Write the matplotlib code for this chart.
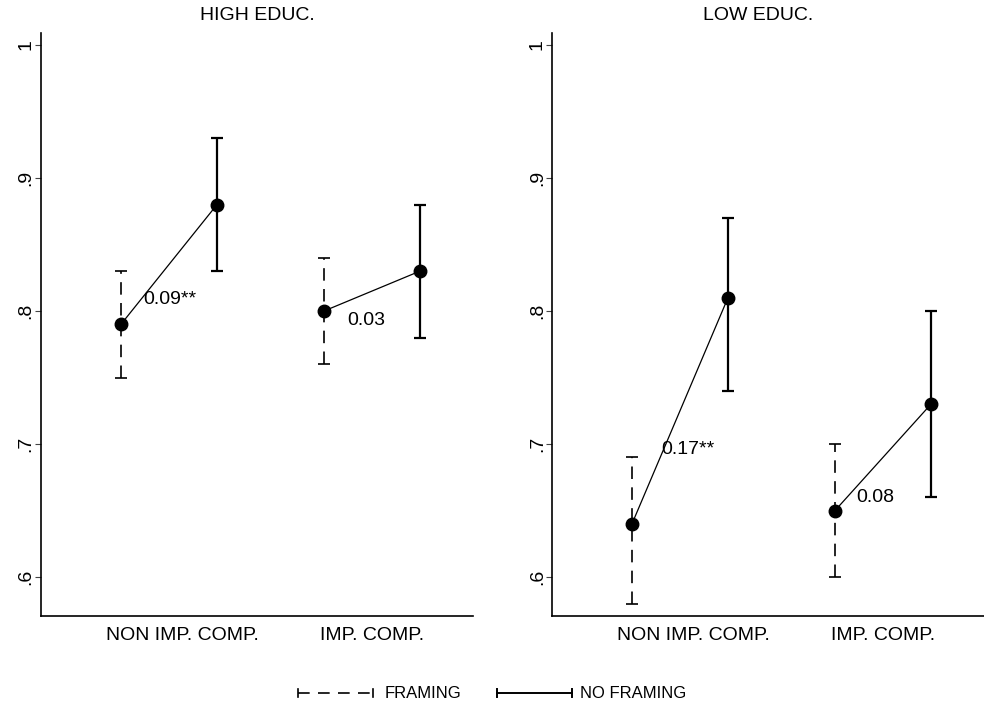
import matplotlib
matplotlib.use("Agg")
import matplotlib.pyplot as plt
import numpy as np

plt.rcParams['font.family'] = ['Liberation Sans', 'DejaVu Sans']

panels = ["HIGH EDUC.", "LOW EDUC."]
categories = ["NON IMP. COMP.", "IMP. COMP."]
series = ["FRAMING", "NO FRAMING"]

# estimates [panel][category] for framing / no framing
framing_mean = [[0.79, 0.80], [0.64, 0.65]]
framing_lo = [[0.75, 0.76], [0.58, 0.60]]
framing_hi = [[0.83, 0.84], [0.69, 0.70]]
noframing_mean = [[0.88, 0.83], [0.81, 0.73]]
noframing_lo = [[0.83, 0.78], [0.74, 0.66]]
noframing_hi = [[0.93, 0.88], [0.87, 0.80]]
diff_labels = [["0.09**", "0.03"], ["0.17**", "0.08"]]

yticks = [0.6, 0.7, 0.8, 0.9, 1.0]
ytick_labels = [".6", ".7", ".8", ".9", "1"]

# layout
W, H = 984, 711
fig = plt.figure(figsize=(W / 100, H / 100), dpi=100)
FS = 14
LFS = 12

x_fr = np.array([1.0, 3.115])
x_nf = x_fr + 1.0
cat_tick_pos = [1.635, 3.615]
label_pos = [[(1.229, 0.809), (3.354, 0.793)], [(1.302, 0.696), (3.333, 0.660)]]
title_x = [0.5, 0.477]

lefts = [41, 552]
for p in range(2):
    ax = fig.add_axes([lefts[p] / W, 95 / H, 432 / W, 583 / H])
    fm = np.array(framing_mean[p]); flo = np.array(framing_lo[p]); fhi = np.array(framing_hi[p])
    nm = np.array(noframing_mean[p]); nlo = np.array(noframing_lo[p]); nhi = np.array(noframing_hi[p])
    # connecting lines
    for c in range(2):
        ax.plot([x_fr[c], x_nf[c]], [fm[c], nm[c]], color='black', lw=0.9, zorder=2)
    e1 = ax.errorbar(x_fr, fm, yerr=[fm - flo, fhi - fm], fmt='o', color='black',
                     ms=9, elinewidth=1.2, capsize=4.5, capthick=1.2, zorder=3)
    e1[2][0].set_linestyle((0, (7.5, 5)))
    ax.errorbar(x_nf, nm, yerr=[nm - nlo, nhi - nm], fmt='o', color='black',
                ms=9, elinewidth=1.6, capsize=4.5, capthick=1.6, zorder=3)
    for c in range(2):
        ax.text(label_pos[p][c][0], label_pos[p][c][1], diff_labels[p][c],
                ha='left', va='center', fontsize=FS, zorder=4)
    ax.set_xlim(1 - 80 / 96, 1 - 80 / 96 + 432 / 96)
    ax.set_ylim(0.5707, 1.009)
    ax.set_yticks(yticks)
    ax.set_yticklabels(ytick_labels, rotation=90, va='center', fontsize=FS)
    ax.set_xticks(cat_tick_pos)
    ax.set_xticklabels(categories, fontsize=FS)
    ax.tick_params(axis='x', length=0, pad=8)
    ax.tick_params(axis='y', length=4.5, width=0.8, pad=0, color='#444444')
    for s in ['top', 'right']:
        ax.spines[s].set_visible(False)
    ax.spines['left'].set_linewidth(1.2)
    ax.spines['bottom'].set_linewidth(1.2)
    ax.set_title(panels[p], fontsize=FS, x=title_x[p], pad=9)

# legend drawn in its own axes (pixel coords)
lax = fig.add_axes([0, 0, 1, 1], facecolor='none')
lax.set_xlim(0, W)
lax.set_ylim(H, 0)
lax.axis('off')
ly = 693
# framing symbol
lax.plot([298, 373], [ly, ly], color='black', lw=1.2, dashes=(7, 5))
lax.plot([298, 298], [ly - 4, ly + 4], color='black', lw=1.2)
lax.plot([373, 373], [ly - 4, ly + 4], color='black', lw=1.2)
lax.text(385, ly, series[0], ha='left', va='center', fontsize=LFS)
# no framing symbol
lax.plot([497, 572], [ly, ly], color='black', lw=1.4)
lax.plot([497, 497], [ly - 4, ly + 4], color='black', lw=1.4)
lax.plot([572, 572], [ly - 4, ly + 4], color='black', lw=1.4)
lax.text(580, ly, series[1], ha='left', va='center', fontsize=LFS)

fig.savefig("out.png", dpi=100)
